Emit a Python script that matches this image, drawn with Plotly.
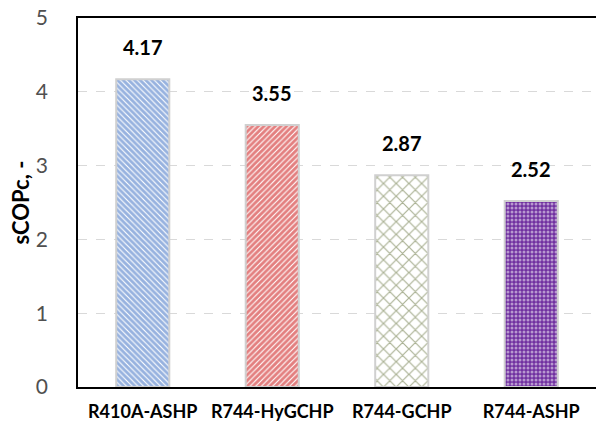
import plotly.graph_objects as go

# data
systems = ['R410A-ASHP', 'R744-HyGCHP', 'R744-GCHP', 'R744-ASHP']
scop_c = [4.17, 3.55, 2.87, 2.52]

# hatch style per bar (Excel-like patterns)
colors = ['#2f66c0', '#c80000', '#56652a', 'white']
backs = ['white', 'white', 'white', '#7030a0']
shapes = ['\\', '/', 'x', '.']
sizes = [4, 4, 9, 4]
solid = [0.72, 0.72, 0.25, 0.45]

fig = go.Figure()
fig.add_trace(go.Bar(
    x=systems, y=scop_c, width=0.41,
    marker=dict(
        color='white',
        line=dict(color='#d0d0d0', width=2),
        pattern=dict(shape=shapes, fgcolor=colors, bgcolor=backs,
                     size=sizes, solidity=solid, fillmode='overlay'),
    ),
    showlegend=False,
))

# value labels above bars
for s, v in zip(systems, scop_c):
    fig.add_annotation(x=s, y=v, text='<b>%.2f</b>' % v, showarrow=False,
                       yshift=32, font=dict(size=20, color='black'))

# y axis title as a rotated annotation so it sits where the original one is
fig.add_annotation(text='<b>sCOPc, -</b>', textangle=-90, showarrow=False,
                   xref='paper', yref='paper', x=0, y=0.5, xshift=-58,
                   xanchor='center', yanchor='middle',
                   font=dict(size=22, color='black'))

fig.update_layout(
    width=596, height=427,
    margin=dict(l=78, r=0, t=18, b=40),
    plot_bgcolor='white', paper_bgcolor='white',
    font=dict(family='Lato, Open Sans, sans-serif'),
)
fig.update_xaxes(
    showline=True, linecolor='black', linewidth=1.5, mirror=True,
    showgrid=False, ticks='', ticklabelstandoff=8, automargin=False,
    tickfont=dict(size=18, color='black', weight='bold'),
)
fig.update_yaxes(
    range=[0, 5], dtick=1, showline=True, linecolor='black', linewidth=1.5,
    showgrid=True, gridcolor='#d9d9d9', griddash='dash', gridwidth=1,
    zeroline=False, ticks='', ticklabelstandoff=24, ticklabeloverflow='allow',
    automargin=False, tickfont=dict(size=21, color='#505050'),
)

# drop the default 8px body margin so the figure fills the window exactly
fig.write_html("out.html", config={'displayModeBar': False},
               post_script="document.body.style.margin='0';")
